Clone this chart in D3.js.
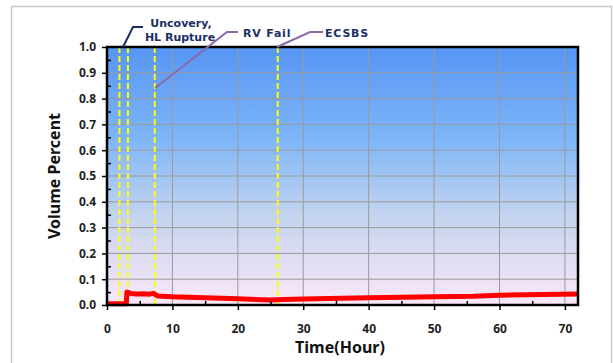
<!DOCTYPE html>
<html>
<head>
<meta charset="utf-8">
<script src="https://cdn.jsdelivr.net/npm/d3@7"></script>
<style>
  body { margin: 0; background: #fff; }
  text { font-family: "Noto Sans", "DejaVu Sans", sans-serif; }
  text.ann { font-family: "DejaVu Sans", sans-serif; }
</style>
</head>
<body>
<script>
// volume percent vs time
var time_hr = [0, 2.95, 3.05, 3.3, 3.6, 4.5, 5.5, 6.5, 7.1, 7.4, 7.8, 10, 15, 20, 25, 26, 27, 30, 40, 50, 56, 60, 72];
var vol_pct = [0.005, 0.005, 0.05, 0.049, 0.045, 0.043, 0.044, 0.042, 0.045, 0.04, 0.035, 0.032, 0.028, 0.024, 0.019, 0.02, 0.021, 0.023, 0.028, 0.032, 0.034, 0.038, 0.043];

var event_times = [1.9, 3.2, 7.3, 26.1];
var x_ticks = [0, 10, 20, 30, 40, 50, 60, 70];
var y_ticks = [0, 0.1, 0.2, 0.3, 0.4, 0.5, 0.6, 0.7, 0.8, 0.9, 1.0];

var margin = { top: 47, right: 35, bottom: 58, left: 107 };
var W = 613, H = 363;
var width = W - margin.left - margin.right;
var height = H - margin.top - margin.bottom;

var svg = d3.select("body").append("svg").attr("width", W).attr("height", H);

// outer frame
svg.append("path").attr("d", "M11.5,363 V6.5 H611.5 V363")
  .attr("fill", "none").attr("stroke", "#c8c8c8").attr("stroke-width", 1.5);

var x = d3.scaleLinear().domain([0, 72]).range([0, width]);
var y = d3.scaleLinear().domain([0, 1]).range([height, 0]);

var defs = svg.append("defs");
var grad = defs.append("linearGradient").attr("id", "bg").attr("x1", 0).attr("y1", 0).attr("x2", 0).attr("y2", 1);
grad.append("stop").attr("offset", "0%").attr("stop-color", "#5795f4");
grad.append("stop").attr("offset", "35%").attr("stop-color", "#7db5f8");
grad.append("stop").attr("offset", "65%").attr("stop-color", "#c3d3ee");
grad.append("stop").attr("offset", "100%").attr("stop-color", "#fbe8f8");

var g = svg.append("g").attr("transform", "translate(" + margin.left + "," + margin.top + ")");

g.append("rect").attr("width", width).attr("height", height).attr("fill", "url(#bg)");

// grid
g.append("g").selectAll("line").data(x_ticks.filter(function(d) { return d > 0; })).enter().append("line")
  .attr("x1", function(d) { return x(d); }).attr("x2", function(d) { return x(d); })
  .attr("y1", 0).attr("y2", height)
  .attr("stroke", "#9a9a9a").attr("stroke-width", 1);
g.append("g").selectAll("line").data(y_ticks.filter(function(d) { return d > 0 && d < 1; })).enter().append("line")
  .attr("x1", 0).attr("x2", width)
  .attr("y1", function(d) { return y(d); }).attr("y2", function(d) { return y(d); })
  .attr("stroke", "#9a9a9a").attr("stroke-width", 1);

// yellow event lines
g.append("g").selectAll("line").data(event_times).enter().append("line")
  .attr("x1", function(d) { return x(d); }).attr("x2", function(d) { return x(d); })
  .attr("y1", 0).attr("y2", height)
  .attr("stroke", "#ffff00").attr("stroke-width", 2).attr("stroke-dasharray", "6,3");

// data line
var line = d3.line().x(function(d) { return x(d[0]); }).y(function(d) { return y(d[1]); });
g.append("path").datum(d3.zip(time_hr, vol_pct))
  .attr("d", line).attr("fill", "none").attr("stroke", "#ff0000").attr("stroke-width", 5)
  .attr("stroke-linejoin", "round");

// border
g.append("rect").attr("width", width).attr("height", height)
  .attr("fill", "none").attr("stroke", "#000").attr("stroke-width", 2.5);

// axes
var xAxis = g.append("g").attr("transform", "translate(0," + height + ")")
  .call(d3.axisBottom(x).tickValues(x_ticks).tickSize(5).tickPadding(14).tickFormat(d3.format("d")));
var xMinor = g.append("g").attr("transform", "translate(0," + height + ")")
  .call(d3.axisTop(x).tickValues([5, 15, 25, 35, 45, 55, 65]).tickSize(4).tickFormat(""));
var yAxis = g.append("g")
  .call(d3.axisLeft(y).tickValues(y_ticks).tickSize(5).tickPadding(6).tickFormat(d3.format(".1f")));
var yMinor = g.append("g")
  .call(d3.axisRight(y).tickValues(d3.range(0.05, 1, 0.1)).tickSize(4).tickFormat(""));

[xAxis, xMinor, yAxis, yMinor].forEach(function(a) {
  a.select(".domain").remove();
  a.selectAll(".tick line").attr("stroke", "#000").attr("stroke-width", 1.5);
});
[xAxis, yAxis].forEach(function(a) {
  a.selectAll(".tick text").attr("font-size", 12).attr("font-weight", "bold").attr("fill", "#222");
});

// axis titles
svg.append("text").attr("x", 340).attr("y", 353).attr("text-anchor", "middle")
  .attr("font-size", 16).attr("font-weight", "bold").attr("fill", "#111").text("Time(Hour)");
svg.append("text").attr("transform", "translate(60," + (margin.top + height / 2) + ") rotate(-90)")
  .attr("text-anchor", "middle").attr("font-size", 16).attr("font-weight", "bold").attr("fill", "#111")
  .text("Volume Percent");

// annotations
var navy = "#1c2f63";
svg.append("polyline").attr("points", [[123, 47], [133, 27], [143, 27]].join(" "))
  .attr("fill", "none").attr("stroke", navy).attr("stroke-width", 2);
svg.append("polyline").attr("points", [[155, 88], [227, 32], [238, 32]].join(" "))
  .attr("fill", "none").attr("stroke", "#8b6aa8").attr("stroke-width", 2);
svg.append("polyline").attr("points", [[277, 47], [310, 32], [323, 32]].join(" "))
  .attr("fill", "none").attr("stroke", "#8b6aa8").attr("stroke-width", 2);

var ann = svg.append("g").attr("font-size", 11).attr("font-weight", "bold").attr("fill", navy);
ann.append("text").attr("class", "ann").attr("x", 181).attr("y", 27).attr("text-anchor", "middle").text("Uncovery,");
ann.append("text").attr("class", "ann").attr("x", 180).attr("y", 41).attr("text-anchor", "middle").text("HL Rupture");
ann.append("text").attr("class", "ann").attr("x", 243).attr("y", 37).attr("letter-spacing", 0.8).text("RV Fail");
ann.append("text").attr("class", "ann").attr("x", 325).attr("y", 37).attr("letter-spacing", 0.8).text("ECSBS");
</script>
</body>
</html>
